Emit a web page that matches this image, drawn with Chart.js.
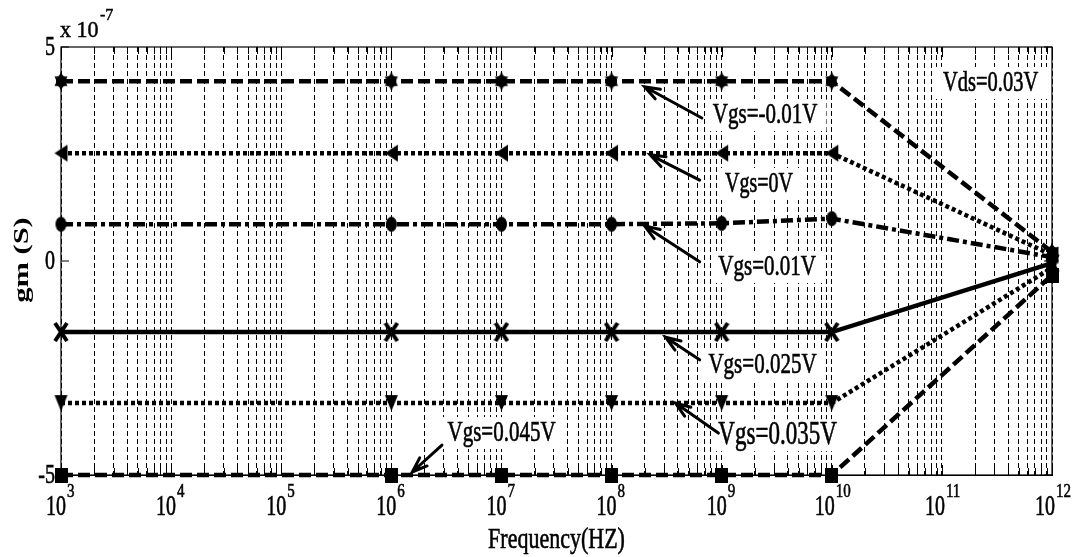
<!DOCTYPE html>
<html>
<head>
<meta charset="utf-8">
<script src="https://cdn.jsdelivr.net/npm/chart.js@4.4.0/dist/chart.umd.min.js"></script>
<style>
    html, body { margin: 0; padding: 0; background: #fff; }
    #wrap { width: 1074px; height: 557px; }
</style>
</head>
<body>
<div id="wrap"><canvas id="gmChart" width="1074" height="557"></canvas></div>
<script>
// Frequency points (Hz)
const frequencies = [1e3, 1e6, 1e7, 1e8, 1e9, 1e10, 1e12];

// gm (S) for each Vgs, Vds = 0.03V
const gmVgsMinus001 = [4.2e-7, 4.2e-7, 4.2e-7, 4.2e-7, 4.2e-7, 4.2e-7, 0.21e-7];
const gmVgs0 = [2.52e-7, 2.52e-7, 2.52e-7, 2.52e-7, 2.52e-7, 2.52e-7, 0.14e-7];
const gmVgs001 = [0.86e-7, 0.86e-7, 0.86e-7, 0.86e-7, 0.88e-7, 0.99e-7, 0.09e-7];
const gmVgs0025 = [-1.66e-7, -1.66e-7, -1.66e-7, -1.66e-7, -1.66e-7, -1.66e-7, -0.05e-7];
const gmVgs0035 = [-3.32e-7, -3.32e-7, -3.32e-7, -3.32e-7, -3.32e-7, -3.32e-7, -0.16e-7];
const gmVgs0045 = [-5e-7, -5e-7, -5e-7, -5e-7, -5e-7, -5e-7, -0.33e-7];

const seriesLabels = ['Vgs=-0.01V', 'Vgs=0V', 'Vgs=0.01V', 'Vgs=0.025V', 'Vgs=0.035V', 'Vgs=0.045V'];

// Axis ticks
const xDecades = [3, 4, 5, 6, 7, 8, 9, 10, 11, 12];
const yTickValues = [-5e-7, 0, 5e-7];
const yTickLabels = ['-5', '0', '5'];
const yExponent = '-7';

// Annotation text and arrows (log10 frequency, gm in 1e-7 S)
const notes = [
    { text: 'Vgs=-0.01V', size: 21, tx: 8.92, ty: 3.41, fx: 8.82, fy: 3.34, ax: 8.30, ay: 4.07 },
    { text: 'Vgs=0V', size: 20, tx: 9.03, ty: 1.80, fx: 8.80, fy: 1.89, ax: 8.35, ay: 2.48 },
    { text: 'Vgs=0.01V', size: 21, tx: 8.97, ty: -0.14, fx: 8.80, fy: -0.02, ax: 8.30, ay: 0.82 },
    { text: 'Vgs=0.025V', size: 21, tx: 8.88, ty: -2.43, fx: 8.80, fy: -2.31, ax: 8.49, ay: -1.78 },
    { text: 'Vgs=0.035V', size: 23, tx: 8.97, ty: -4.07, fx: 8.97, fy: -4.02, ax: 8.58, ay: -3.32 },
    { text: 'Vgs=0.045V', size: 21, tx: 6.51, ty: -4.02, fx: 6.46, fy: -4.30, ax: 6.19, ay: -4.93 },
    { text: 'Vds=0.03V', size: 20.5, tx: 11.01, ty: 4.16 }
];

const SERIF = '"Liberation Serif", "Times New Roman", serif';

// Build marker images
function makeMarker(kind, w, h) {
    const c = document.createElement('canvas');
    c.width = w; c.height = h;
    const g = c.getContext('2d');
    g.fillStyle = '#000';
    g.strokeStyle = '#000';
    const cx = w / 2, cy = h / 2;
    g.beginPath();
    if (kind === 'hexagram') {
        [[-90, 30, 150], [90, 210, 330]].forEach(angles => {
            angles.forEach((a, i) => {
                const r = a * Math.PI / 180;
                const px = cx + Math.cos(r) * (w / 2 - 0.5);
                const py = cy + Math.sin(r) * (h / 2 - 0.5);
                i === 0 ? g.moveTo(px, py) : g.lineTo(px, py);
            });
            g.closePath();
        });
        g.fill();
        g.beginPath();
        g.ellipse(cx, cy, w / 3.2, h / 3.2, 0, 0, Math.PI * 2);
        g.fill();
    } else if (kind === 'left') {
        g.moveTo(1, cy); g.lineTo(w - 1, 1); g.lineTo(w - 1, h - 1); g.closePath(); g.fill();
    } else if (kind === 'down') {
        g.moveTo(1, 1); g.lineTo(w - 1, 1); g.lineTo(cx, h - 1); g.closePath(); g.fill();
    } else if (kind === 'circle') {
        g.ellipse(cx, cy, w / 2 - 1, h / 2 - 1, 0, 0, Math.PI * 2); g.fill();
    } else if (kind === 'cross') {
        g.lineWidth = 4;
        g.moveTo(2, 2); g.lineTo(w - 2, h - 2);
        g.moveTo(w - 2, 2); g.lineTo(2, h - 2);
        g.stroke();
    } else if (kind === 'square') {
        g.fillRect(0, 0, w, h);
    }
    return c;
}

const seriesData = [gmVgsMinus001, gmVgs0, gmVgs001, gmVgs0025, gmVgs0035, gmVgs0045];
const seriesDash = [[12, 5], [4, 3], [12, 4, 4, 4], [], [4, 3], [12, 5]];
const seriesMarker = [
    makeMarker('hexagram', 16, 20),
    makeMarker('left', 15, 19),
    makeMarker('circle', 13, 17),
    makeMarker('cross', 16, 22),
    makeMarker('down', 15, 18),
    makeMarker('square', 13, 15)
];

function stretchedText(ctx, text, x, y, font, align, baseline, sy) {
    ctx.save();
    ctx.translate(x, y);
    ctx.scale(1, sy);
    ctx.font = font;
    ctx.textAlign = align;
    ctx.textBaseline = baseline;
    ctx.fillStyle = '#000';
    ctx.strokeStyle = '#000';
    ctx.lineWidth = 0.45;
    ctx.fillText(text, 0, 0);
    ctx.strokeText(text, 0, 0);
    ctx.restore();
}

// Frame, tick labels, titles and annotations
const matlabDecor = {
    id: 'matlabDecor',
    afterDraw(chart) {
        const ctx = chart.ctx;
        const area = chart.chartArea;
        const xs = chart.scales.x, ys = chart.scales.y;

        ctx.save();
        ctx.strokeStyle = '#000';
        ctx.lineWidth = 1.2;
        ctx.setLineDash([]);
        ctx.strokeRect(area.left, area.top, area.right - area.left, area.bottom - area.top);

        // x tick marks (inward, bottom and top)
        ctx.lineWidth = 1;
        xs.ticks.forEach(t => {
            const px = Math.round(xs.getPixelForValue(t.value)) + 0.5;
            const len = Math.abs(Math.log10(t.value) % 1) < 1e-9 ? 10 : 7;
            ctx.beginPath();
            ctx.moveTo(px, area.bottom); ctx.lineTo(px, area.bottom - len);
            ctx.moveTo(px, area.top); ctx.lineTo(px, area.top + len);
            ctx.stroke();
        });

        // y tick marks
        yTickValues.forEach(v => {
            const py = ys.getPixelForValue(v);
            ctx.beginPath();
            ctx.moveTo(area.left, py); ctx.lineTo(area.left + 8, py);
            ctx.moveTo(area.right, py); ctx.lineTo(area.right - 8, py);
            ctx.stroke();
        });

        // y tick labels
        yTickValues.forEach((v, i) => {
            stretchedText(ctx, yTickLabels[i], area.left - 6, ys.getPixelForValue(v) + 1, '20px ' + SERIF, 'right', 'middle', 1.4);
        });
        stretchedText(ctx, 'x 10', area.left - 1, area.top - 10, '22px ' + SERIF, 'left', 'alphabetic', 1.05);
        stretchedText(ctx, yExponent, area.left + 39, area.top - 27, '16px ' + SERIF, 'left', 'alphabetic', 1.1);

        // x tick labels 10^n
        xDecades.forEach(n => {
            const px = xs.getPixelForValue(Math.pow(10, n));
            const off = n >= 10 ? 3 : 5;
            stretchedText(ctx, '10', px + off, area.bottom + 40, '20px ' + SERIF, 'right', 'alphabetic', 1.48);
            stretchedText(ctx, String(n), px + off + 1, area.bottom + 22, '15px ' + SERIF, 'left', 'alphabetic', 1.2);
        });

        // axis titles
        stretchedText(ctx, 'Frequency(HZ)', (area.left + area.right) / 2, area.bottom + 73, '22px ' + SERIF, 'center', 'alphabetic', 1.37);
        ctx.save();
        ctx.translate(23, 260);
        ctx.rotate(-Math.PI / 2);
        ctx.scale(1.45, 1);
        ctx.font = 'bold 21px ' + SERIF;
        ctx.textAlign = 'center';
        ctx.textBaseline = 'middle';
        ctx.fillStyle = '#000';
        ctx.fillText('gm (S)', 0, 0);
        ctx.restore();

        // annotations on white boxes
        const toPx = (lf, v) => [xs.getPixelForValue(Math.pow(10, lf)), ys.getPixelForValue(v * 1e-7)];
        notes.forEach(n => {
            const [tx, ty] = toPx(n.tx, n.ty);
            ctx.font = n.size + 'px ' + SERIF;
            const w = ctx.measureText(n.text).width;
            ctx.fillStyle = '#fff';
            ctx.fillRect(tx - 7, ty - 16, w + 16, 32);
        });
        notes.forEach(n => {
            const [tx, ty] = toPx(n.tx, n.ty);
            stretchedText(ctx, n.text, tx, ty, n.size + 'px ' + SERIF, 'left', 'middle', 1.45);
            if (n.fx === undefined) return;
            const [fx, fy] = toPx(n.fx, n.fy);
            const [ax, ay] = toPx(n.ax, n.ay);
            const ang = Math.atan2(ay - fy, ax - fx);
            ctx.strokeStyle = '#000';
            ctx.lineWidth = 3;
            ctx.lineCap = 'round';
            ctx.beginPath();
            ctx.moveTo(fx, fy); ctx.lineTo(ax, ay);
            ctx.moveTo(ax - 16 * Math.cos(ang - 0.35), ay - 16 * Math.sin(ang - 0.35));
            ctx.lineTo(ax, ay);
            ctx.lineTo(ax - 16 * Math.cos(ang + 0.35), ay - 16 * Math.sin(ang + 0.35));
            ctx.stroke();
        });
        ctx.restore();
    }
};

const ctx = document.getElementById('gmChart').getContext('2d');
new Chart(ctx, {
    type: 'line',
    data: {
        datasets: seriesData.map((vals, i) => ({
            label: seriesLabels[i],
            data: frequencies.map((f, j) => ({ x: f, y: vals[j] })),
            borderColor: '#000',
            backgroundColor: '#000',
            borderWidth: 4.5,
            borderDash: seriesDash[i],
            borderCapStyle: 'butt',
            pointStyle: seriesMarker[i],
            pointRadius: 8,
            tension: 0,
            fill: false,
            clip: false
        }))
    },
    options: {
        responsive: false,
        animation: false,
        layout: { padding: { left: 61, right: 22, top: 47, bottom: 82 } },
        plugins: {
            legend: { display: false },
            tooltip: { enabled: false }
        },
        scales: {
            x: {
                type: 'logarithmic',
                min: 1e3,
                max: 1e12,
                afterBuildTicks: scale => {
                    const ticks = [];
                    xDecades.forEach(n => {
                        for (let k = 1; k <= 9; k++) {
                            if (n === 12 && k > 1) break;
                            ticks.push({ value: k * Math.pow(10, n) });
                        }
                    });
                    scale.ticks = ticks;
                },
                ticks: { display: false, autoSkip: false },
                grid: {
                    display: true,
                    color: '#000',
                    lineWidth: 1,
                    drawTicks: false
                },
                border: { display: true, color: '#000', dash: [5, 3] }
            },
            y: {
                type: 'linear',
                min: -5e-7,
                max: 5e-7,
                ticks: { display: false },
                grid: { display: false, drawTicks: false },
                border: { display: false }
            }
        }
    },
    plugins: [matlabDecor]
});
</script>
</body>
</html>
